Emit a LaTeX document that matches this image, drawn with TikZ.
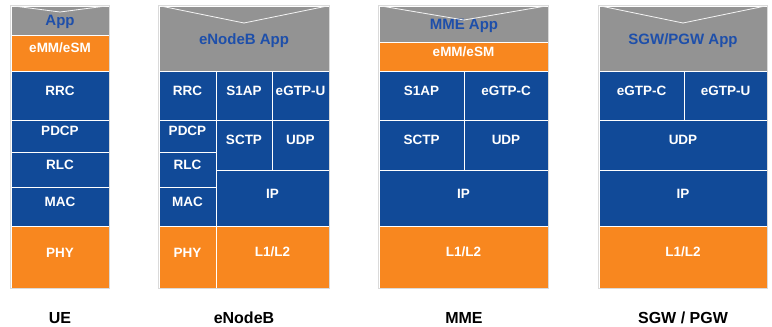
\documentclass[tikz,border=0pt]{standalone}
\usepackage{fontspec}
\setmainfont{Liberation Sans}
\usetikzlibrary{fit}
\definecolor{stkblue}{HTML}{114A98}
\definecolor{stkorange}{HTML}{F8871F}
\definecolor{stkgray}{HTML}{939393}
\definecolor{apptext}{HTML}{1E4FAA}
\definecolor{rimgray}{HTML}{DADADA}
\newcommand\stackcell[7]{\node[#1, fit={(#3,#4) (#5,#6)}] (#2) {#7};}
\begin{document}
\begin{tikzpicture}[x=1pt,y=-1pt,
  cellbase/.style={draw=white, line width=0.8pt, inner sep=0pt, font=\fontsize{13.5}{15}\selectfont\bfseries, text=white},
  bluecell/.style={cellbase, fill=stkblue},
  orangecell/.style={cellbase, fill=stkorange},
  appcell/.style={cellbase, fill=stkgray, text=apptext, font=\fontsize{15}{17}\selectfont\bfseries},
  rim/.style={draw=rimgray, line width=0.8pt},
  vline/.style={draw=white!90!stkgray, line width=0.8pt},
  stacklabel/.style={font=\fontsize{16}{18}\selectfont\bfseries, text=black}]
\useasboundingbox[fill=white] (0,0) rectangle (772,327);
% UE
\stackcell{appcell}{ueapp}{11}{6}{109}{35}{}
\node[appcell, draw=none, fill=none] (ueapptxt) at (60,22) {App};
\stackcell{orangecell}{ueemm}{11}{35}{109}{71}{eMM/eSM}
\stackcell{bluecell}{uerrc}{11}{71}{109}{120}{RRC}
\stackcell{bluecell}{uepdcp}{11}{120}{109}{152}{PDCP}
\stackcell{bluecell}{uerlc}{11}{152}{109}{187}{RLC}
\stackcell{bluecell}{uemac}{11}{187}{109}{226}{MAC}
\stackcell{orangecell}{uephy}{11}{226}{109}{288}{PHY}
\coordinate (uev) at (60,12);
\draw[vline] (ueapp.north west) -- (uev) -- (ueapp.north east);
\draw[rim] (ueapp.north west) rectangle (uephy.south east);
% eNodeB
\stackcell{appcell}{enbapp}{159}{6}{329}{71}{}
\node[appcell, draw=none, fill=none] (enbapptxt) at (244,41) {eNodeB App};
\stackcell{bluecell}{enbrrc}{159}{71}{216}{120}{RRC}
\stackcell{bluecell}{enbsap}{216}{71}{272}{120}{S1AP}
\stackcell{bluecell}{enbgtpu}{272}{71}{329}{120}{eGTP-U}
\stackcell{bluecell}{enbpdcp}{159}{120}{216}{152}{PDCP}
\stackcell{bluecell}{enbrlc}{159}{152}{216}{187}{RLC}
\stackcell{bluecell}{enbmac}{159}{187}{216}{226}{MAC}
\stackcell{bluecell}{enbsctp}{216}{120}{272}{170}{SCTP}
\stackcell{bluecell}{enbudp}{272}{120}{329}{170}{UDP}
\stackcell{bluecell}{enbip}{216}{170}{329}{226}{IP}
\stackcell{orangecell}{enbphy}{159}{226}{216}{288}{PHY}
\stackcell{orangecell}{enbl}{216}{226}{329}{288}{L1/L2}
\coordinate (enbv) at (244,23);
\draw[vline] (enbapp.north west) -- (enbv) -- (enbapp.north east);
\draw[rim] (enbapp.north west) rectangle (enbl.south east);
% MME
\stackcell{appcell}{mmeapp}{379}{6}{548}{42}{}
\node[appcell, draw=none, fill=none] (mmeapptxt) at (464,26) {MME App};
\stackcell{orangecell}{mmeemm}{379}{42}{548}{71}{eMM/eSM}
\stackcell{bluecell}{mmesap}{379}{71}{464}{120}{S1AP}
\stackcell{bluecell}{mmegtpc}{464}{71}{548}{120}{eGTP-C}
\stackcell{bluecell}{mmesctp}{379}{120}{464}{170}{SCTP}
\stackcell{bluecell}{mmeudp}{464}{120}{548}{170}{UDP}
\stackcell{bluecell}{mmeip}{379}{170}{548}{226}{IP}
\stackcell{orangecell}{mmel}{379}{226}{548}{288}{L1/L2}
\coordinate (mmev) at (464,20);
\draw[vline] (mmeapp.north west) -- (mmev) -- (mmeapp.north east);
\draw[rim] (mmeapp.north west) rectangle (mmel.south east);
% SGW/PGW
\stackcell{appcell}{gwapp}{599}{6}{767}{71}{}
\node[appcell, draw=none, fill=none] (gwapptxt) at (683,41) {SGW/PGW App};
\stackcell{bluecell}{gwgtpc}{599}{71}{684}{120}{eGTP-C}
\stackcell{bluecell}{gwgtpu}{684}{71}{767}{120}{eGTP-U}
\stackcell{bluecell}{gwudp}{599}{120}{767}{170}{UDP}
\stackcell{bluecell}{gwip}{599}{170}{767}{226}{IP}
\stackcell{orangecell}{gwl}{599}{226}{767}{288}{L1/L2}
\coordinate (gwv) at (683,23);
\draw[vline] (gwapp.north west) -- (gwv) -- (gwapp.north east);
\draw[rim] (gwapp.north west) rectangle (gwl.south east);
% labels
\node[stacklabel] (uelabel) at (60,318) {UE};
\node[stacklabel] (enblabel) at (244,318) {eNodeB};
\node[stacklabel] (mmelabel) at (464,318) {MME};
\node[stacklabel] (gwlabel) at (683,318) {SGW / PGW};
\end{tikzpicture}
\end{document}
